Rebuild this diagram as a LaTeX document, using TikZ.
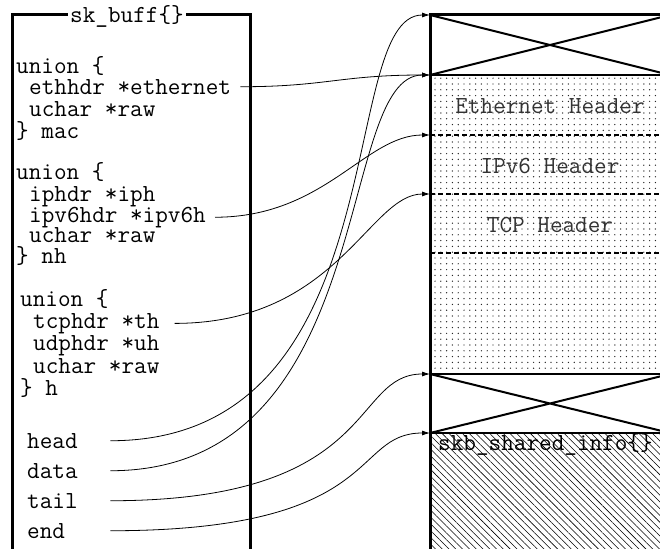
\documentclass[tikz,border=0pt]{standalone}
\usepackage{fontspec}
\usetikzlibrary{arrows.meta, patterns.meta, calc}

\begin{document}
\begin{tikzpicture}[x=1pt, y=-1pt,
  field/.style={font=\ttfamily\fontsize{24.5}{26}\selectfont, inner sep=0pt, anchor=mid west},
  ptrfield/.style={field, text width=83pt},
  hdr/.style={font=\ttfamily\fontsize{24.5}{26}\selectfont, text=black!80, inner sep=0pt},
  frame/.style={line width=3pt},
  sep/.style={line width=2pt},
  dashsep/.style={line width=1.8pt, dash pattern=on 5pt off 3pt},
  arr/.style={-{Latex[length=8pt, width=5pt]}, line width=0.8pt}
]
\useasboundingbox (0,0) rectangle (660,548);
\clip (0,0) rectangle (660,548);

% data buffer
\fill[pattern={Dots[distance=5.8pt, radius=0.7pt]}, pattern color=black!85] (430,75) rectangle (670,374);
\fill[pattern={Lines[angle=-45, distance=4.8pt, line width=0.55pt]}] (430,433) rectangle (670,560);
\draw[sep] (430,75) -- (670,75) (430,374) -- (670,374) (430,433) -- (670,433);
\draw[sep] (430,15) -- (670,75) (430,75) -- (670,15);
\draw[sep] (430,374) -- (670,433) (430,433) -- (670,374);
\draw[dashsep] (430,135) -- (670,135) (430,194) -- (670,194) (430,253) -- (670,253);
\draw[frame] (430,560) -- (430,15) -- (670,15);

\coordinate (bufhead) at (430,15);
\coordinate (bufmac)  at (430,75);
\coordinate (bufnh)   at (430,135);
\coordinate (bufh)    at (430,194);
\coordinate (buftail) at (430,374);
\coordinate (bufend)  at (430,433);

\node[hdr] (ethhdr) at (550,106) {Ethernet Header};
\node[hdr] (ip6hdr) at (550,166) {IPv6 Header};
\node[hdr] (tcphdr) at (550,225) {TCP Header};
\node[field] (shinfo) at (438,448) {skb\_shared\_info\{\}};

% sk_buff
\draw[frame] (12,560) -- (12,15) -- (250,15) -- (250,560);
\node[field, anchor=center, fill=white, inner xsep=2pt, inner ysep=0pt] (title) at (127,16) {sk\_buff\{\}};

\node[field] (u1)   at (16,71)  {union \{};
\node[field] (eth)  at (29,92)  {ethhdr *ethernet};
\node[field] (raw1) at (29,114) {uchar *raw};
\node[field] (mac)  at (16,136) {\} mac};

\node[field] (u2)   at (16,177) {union \{};
\node[field] (iph)  at (29,199) {iphdr *iph};
\node[field] (ip6)  at (29,220) {ipv6hdr *ipv6h};
\node[field] (raw2) at (29,240) {uchar *raw};
\node[field] (nh)   at (16,261) {\} nh};

\node[field] (u3)   at (20,304) {union \{};
\node[field] (th)   at (33,326) {tcphdr *th};
\node[field] (uh)   at (33,348) {udphdr *uh};
\node[field] (raw3) at (33,371) {uchar *raw};
\node[field] (h)    at (20,393) {\} h};

\node[ptrfield] (head) at (27,446) {head};
\node[ptrfield] (data) at (27,476) {data};
\node[ptrfield] (tail) at (27,506) {tail};
\node[ptrfield] (end)  at (27,536) {end};

% pointers
\draw[arr, shorten <=9pt] (eth.east) .. controls +(95,0) and +(-90,0) .. (bufmac);
\draw[arr, shorten <=9pt] (ip6.east) .. controls +(119,0) and +(-65,0) .. (bufnh);
\draw[arr, shorten <=15pt] (th.east) .. controls +(178,0) and +(-61,0) .. (bufh);
\draw[arr] (head.east) .. controls +(290,0) and +(-95,0) .. (bufhead);
\draw[arr] (data.east) .. controls +(270,0) and +(-96,0) .. (bufmac);
\draw[arr] (tail.east) .. controls +(270,0) and +(-80,0) .. (buftail);
\draw[arr] (end.east) .. controls +(275,0) and +(-80,0) .. (bufend);
\end{tikzpicture}
\end{document}
